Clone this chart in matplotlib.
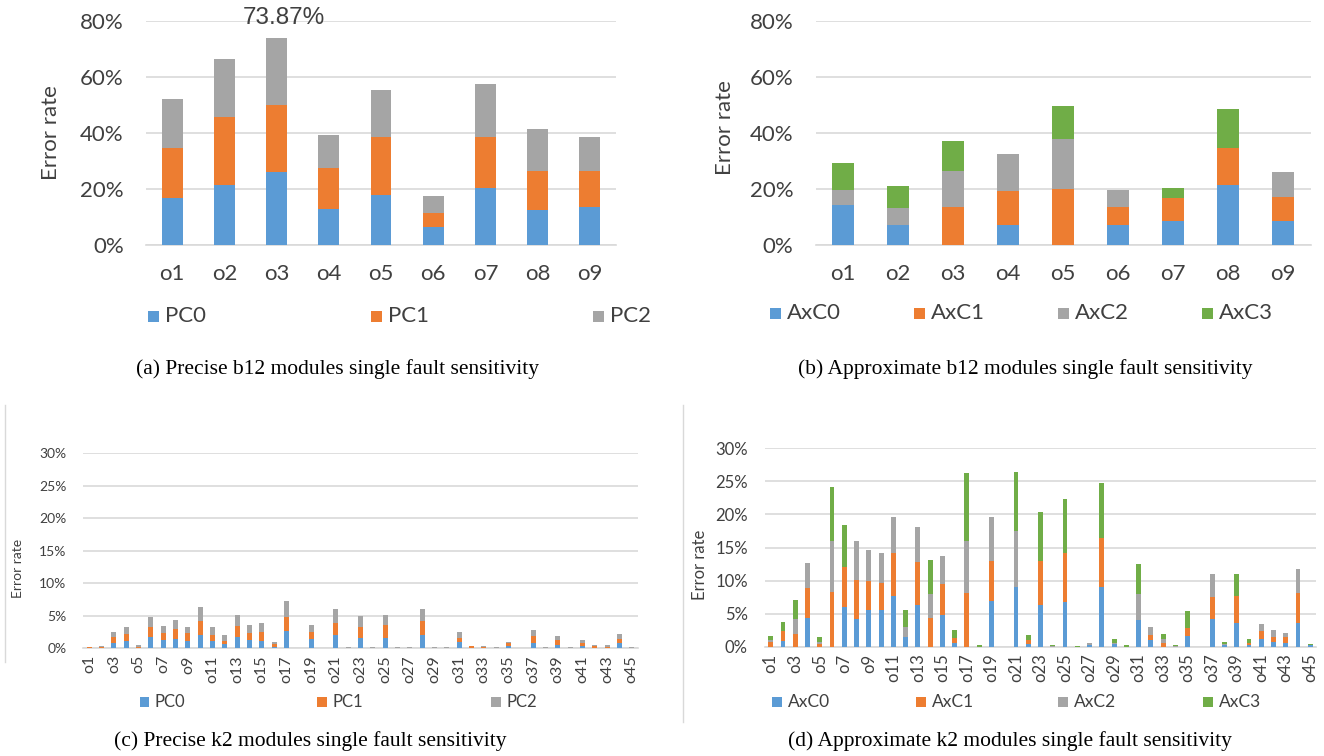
import matplotlib.pyplot as plt
from matplotlib.patches import Rectangle
from matplotlib.lines import Line2D
import numpy as np

plt.rcParams['font.family'] = ['Lato', 'DejaVu Sans']

W, H = 1324, 756

# (a) precise b12, 9 outputs
b12_labels = [f"o{i}" for i in range(1, 10)]
a_names = ["PC0", "PC1", "PC2"]
a_pc0 = [16.7, 21.3, 26.2, 12.7, 17.9, 6.4, 20.4, 12.5, 13.6]
a_pc1 = [18.0, 24.4, 23.7, 14.8, 20.5, 5.0, 18.2, 13.9, 12.8]
a_pc2 = [17.3, 20.5, 23.97, 11.7, 17.0, 6.1, 18.9, 15.0, 12.2]

# (b) approximate b12
b_names = ["AxC0", "AxC1", "AxC2", "AxC3"]
b_c0 = [14.3, 7.0, 0, 7.0, 0, 7.1, 8.6, 21.4, 8.6]
b_c1 = [0, 0, 13.6, 12.3, 20.0, 6.5, 8.2, 13.2, 8.5]
b_c2 = [5.3, 6.3, 12.8, 13.1, 17.9, 6.0, 0, 0, 9.0]
b_c3 = [9.8, 7.8, 10.7, 0, 11.7, 0, 3.6, 14.0, 0]

# (c) precise k2, 45 outputs
k2_labels = [f"o{i}" for i in range(1, 46)]
c_pc0 = [0, 0, 0.83, 1.14, 0.05, 1.66, 1.35, 1.4, 1.14, 2.07,
         1.14, 0.62, 1.71, 1.35, 1.14, 0.2, 2.59, 0, 1.45, 0,
         2.07, 0, 1.6, 0, 1.65, 0, 0, 2.01, 0, 0,
         0.98, 0, 0, 0, 0.36, 0, 0.83, 0, 0.57, 0,
         0.41, 0, 0, 0.78, 0]
c_pc1 = [0.15, 0.2, 0.83, 1.09, 0.2, 1.55, 1.03, 1.5, 1.14, 2.13,
         0.93, 0.57, 1.71, 1.03, 1.4, 0.47, 2.18, 0, 0.99, 0,
         1.87, 0, 1.6, 0, 1.91, 0, 0, 2.11, 0.1, 0,
         0.62, 0.3, 0.2, 0, 0.42, 0, 1.04, 0, 0.73, 0.12,
         0.42, 0.3, 0.25, 0.67, 0]
c_pc2 = [0.1, 0.15, 0.83, 1.03, 0.2, 1.6, 1.04, 1.5, 0.93, 2.12,
         1.19, 0.78, 1.66, 1.2, 1.35, 0.26, 2.43, 0, 1.14, 0,
         2.12, 0.15, 1.7, 0.15, 1.49, 0.15, 0.15, 1.91, 0.15, 0.15,
         0.87, 0, 0.15, 0.15, 0.2, 0, 0.88, 0.15, 0.57, 0.13,
         0.41, 0.22, 0.22, 0.68, 0.15]

# (d) approximate k2
d_c0 = [0, 0.91, 0, 4.39, 0, 0, 5.96, 4.19, 5.5, 5.6,
        7.73, 1.46, 6.26, 0, 4.75, 0.61, 0, 0, 6.92, 0,
        9.04, 0.45, 6.23, 0, 6.83, 0, 0.25, 8.99, 0.35, 0,
        4.02, 0.95, 0, 0, 1.56, 0, 4.12, 0.25, 3.52, 0.25,
        1.11, 0.7, 0.5, 3.57, 0.25]
d_c1 = [0.66, 1.46, 1.97, 4.55, 0.4, 8.33, 6.06, 5.96, 4.5, 4.05,
        6.41, 0, 6.52, 4.29, 4.8, 0.75, 8.13, 0, 6.01, 0,
        0, 0.5, 6.73, 0, 7.29, 0, 0, 7.49, 0, 0,
        0, 0.86, 0.5, 0, 1.3, 0, 3.37, 0, 4.17, 0.35,
        1.2, 0.81, 0.96, 4.62, 0]
d_c2 = [0.4, 0, 2.22, 3.74, 0.36, 7.67, 0, 5.85, 4.55, 4.49,
        5.46, 1.57, 5.3, 3.74, 4.24, 0, 7.83, 0, 6.67, 0,
        8.49, 0, 0, 0.1, 0, 0, 0.25, 0, 0.25, 0,
        3.97, 1.15, 0.66, 0.1, 0, 0, 3.46, 0.2, 0, 0,
        1.06, 0.95, 0.6, 3.57, 0]
d_c3 = [0.51, 1.37, 2.93, 0, 0.7, 8.14, 6.41, 0, 0, 0,
        0, 2.47, 0, 5.1, 0, 1.11, 10.3, 0.2, 0, 0,
        8.83, 0.76, 7.34, 0.15, 8.14, 0.15, 0, 8.24, 0.5, 0.2,
        4.52, 0, 0.7, 0.15, 2.57, 0, 0, 0.3, 3.37, 0.56,
        0, 0, 0, 0, 0.2]

colors = ["#5B9BD5", "#ED7D31", "#A5A5A5", "#70AD47"]
grid_c = "#D9D9D9"
txt_c = "#404040"

fig = plt.figure(figsize=(W / 100, H / 100), dpi=100)


def px_axes(l, t, r, b):
    return fig.add_axes([l / W, 1 - b / H, (r - l) / W, (b - t) / H])


def stacked(ax, labels, series, ymax, step, tick_fs, pad_y, pad_x, rot=0, every=1):
    x = np.arange(len(labels))
    bottom = np.zeros(len(labels))
    for vals, col in zip(series, colors):
        vals = np.array(vals, dtype=float)
        ax.bar(x, vals, 0.4, bottom=bottom, color=col, zorder=3)
        bottom += vals
    ax.set_xlim(-0.5, len(labels) - 0.5)
    ax.set_ylim(0, ymax)
    ax.set_yticks(np.arange(0, ymax + step / 2, step))
    ax.set_yticklabels([f"{v:.0f}%" for v in np.arange(0, ymax + step / 2, step)])
    ax.set_xticks(x[::every])
    ax.set_xticklabels(labels[::every], rotation=rot)
    ax.yaxis.grid(True, color=grid_c, lw=1.2, zorder=0)
    ax.set_axisbelow(True)
    for s in ["top", "right", "left"]:
        ax.spines[s].set_visible(False)
    ax.spines["bottom"].set_color(grid_c)
    ax.spines["bottom"].set_linewidth(1.2)
    ax.tick_params(axis="both", length=0, labelsize=tick_fs, colors=txt_c)
    ax.tick_params(axis="y", pad=pad_y)
    ax.tick_params(axis="x", pad=pad_x)
    return bottom


def legend_row(names, xs, y, size, fs):
    for name, x0, col in zip(names, xs, colors):
        fig.add_artist(Rectangle((x0 / W, 1 - (y + size / 2) / H), size / W, size / H,
                                 transform=fig.transFigure, color=col, lw=0))
        fig.text((x0 + size + 6) / W, 1 - y / H, name, fontsize=fs, color=txt_c,
                 ha="left", va="center")


# (a)
ax_a = px_axes(146, 20.7, 616, 245)
tot_a = stacked(ax_a, b12_labels, [a_pc0, a_pc1, a_pc2], 80, 20, 16, 16, 14)
peak = int(np.argmax(tot_a))
ax_a.annotate(f"{tot_a[peak]:.2f}%", (peak, tot_a[peak]), xytext=(5, 14),
              textcoords="offset points", ha="center", va="center",
              fontsize=17.5, color=txt_c, family=["Liberation Sans", "DejaVu Sans"],
              annotation_clip=False)
fig.text(51 / W, 1 - 132.5 / H, "Error rate", rotation=90, ha="center", va="center",
         fontsize=16, color=txt_c)
legend_row(a_names, [148, 371, 593], 316, 11, 16)

# (b)
ax_b = px_axes(815.5, 20.7, 1310.5, 245)
stacked(ax_b, b12_labels, [b_c0, b_c1, b_c2, b_c3], 80, 20, 16, 16, 14)
fig.text(724.6 / W, 1 - 128 / H, "Error rate", rotation=90, ha="center", va="center",
         fontsize=16, color=txt_c)
legend_row(b_names, [770, 914, 1058, 1202], 313, 11, 16)

# (c)
ax_c = px_axes(83.1, 453, 637.9, 648.3)
stacked(ax_c, k2_labels, [c_pc0, c_pc1, c_pc2], 30, 5, 11.5, 12, 5, rot=90, every=2)
ax_c.tick_params(axis="y", labelsize=10)
fig.text(18 / W, 1 - 568 / H, "Error rate", rotation=90, ha="center", va="center",
         fontsize=10, color=txt_c)
legend_row(a_names, [139.5, 317, 491], 702, 9.5, 12)

# (d)
ax_d = px_axes(764.6, 448.3, 1316.4, 646.7)
stacked(ax_d, k2_labels, [d_c0, d_c1, d_c2, d_c3], 30, 5, 12, 12, 5, rot=90, every=2)
fig.text(700 / W, 1 - 565 / H, "Error rate", rotation=90, ha="center", va="center",
         fontsize=12, color=txt_c)
legend_row(b_names, [772, 916, 1058, 1203], 702, 9.5, 12.5)

# chart-area borders of the lower pair
fig.add_artist(Line2D([5 / W, 5 / W], [1 - 405 / H, 1 - 662 / H], color=grid_c, lw=1))
fig.add_artist(Line2D([683 / W, 683 / W], [1 - 405 / H, 1 - 722 / H], color=grid_c, lw=1))

serif = ["Liberation Serif", "DejaVu Serif"]
cap_fs = 15.5
fig.text(338 / W, 1 - 369 / H, "(a) Precise b12 modules single fault sensitivity",
         ha="center", va="center", fontsize=cap_fs, family=serif)
fig.text(1025 / W, 1 - 369 / H, "(b) Approximate b12 modules single fault sensitivity",
         ha="center", va="center", fontsize=cap_fs, family=serif)
fig.text(310 / W, 1 - 741 / H, "(c) Precise k2 modules single fault sensitivity",
         ha="center", va="center", fontsize=cap_fs, family=serif)
fig.text(1010 / W, 1 - 741 / H, "(d) Approximate k2 modules single fault sensitivity",
         ha="center", va="center", fontsize=cap_fs, family=serif)

fig.savefig("out.png", dpi=100)
